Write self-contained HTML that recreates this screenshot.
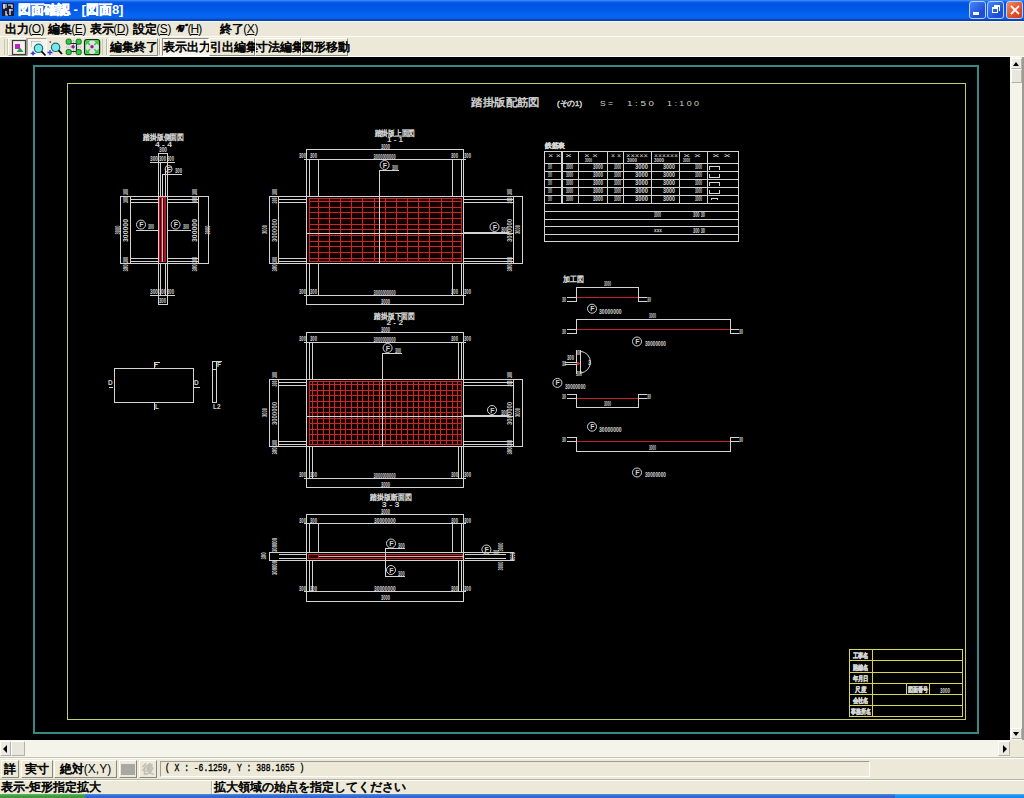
<!DOCTYPE html>
<html><head><meta charset="utf-8"><title>図面確認</title>
<style>
*{margin:0;padding:0;box-sizing:border-box}
html,body{width:1024px;height:798px;overflow:hidden;background:#ece9d8;font-family:"Liberation Sans",sans-serif;font-size:12px;color:#000}
.a{position:absolute}
.j{-webkit-text-stroke:0.6px currentColor}
#title{left:0;top:0;width:1024px;height:21px;background:linear-gradient(#3d95ff 0px,#2a7af8 1px,#0a5ae8 2px,#0054e3 4px,#0058e6 9px,#0062ee 13px,#0866f0 17px,#0a56d8 19px,#0a40b0 20px,#0a3c9c 21px)}
#title .t{left:18px;top:3px;color:#fff;font-weight:bold;font-size:13px;line-height:14px;white-space:nowrap}
.wb{position:absolute;top:1px;width:17px;height:18px;border:1px solid #b8d0ff;border-radius:3px;background:linear-gradient(135deg,#4a86f8,#1c4fd8 70%,#2050c8)}
#wl1{left:0;top:21px;width:1024px;height:1px;background:#f4fbff}
#menu{left:0;top:22px;width:1024px;height:14px;background:#ebe8d9}
#menu .m{position:absolute;top:0px;font-size:12px;white-space:nowrap;line-height:14px;letter-spacing:-0.4px}
.u{text-decoration:underline}
#wl2{left:0;top:36px;width:1024px;height:1px;background:#fffbf0}
#tool{left:0;top:37px;width:1024px;height:19px;background:#ece9d8}
#wl3{left:0;top:56px;width:1024px;height:1px;background:#fffff6}
#canvas{left:0;top:57px;width:1010px;height:683px;background:#000}
.btn{position:absolute;top:38px;height:18px;border:1px solid;border-color:#fff #8e8b80 #8e8b80 #fff;font-size:12px;line-height:16px;text-align:center;white-space:nowrap}
.btn.p{border-color:#8e8b80 #fff #fff #8e8b80;background:#f5f4ee}
#vsb{left:1010px;top:57px;width:14px;height:683px;background:#f5f4ea}
#hsb{left:0;top:740px;width:1010px;height:17px;background:#f5f4ea}
#corner{left:1010px;top:740px;width:14px;height:17px;background:#ece9d8}
#btool{left:0;top:757px;width:1024px;height:22px;background:#ece9d8}
#status{left:0;top:781px;width:1024px;height:14px;background:#ece9d8}
#task{left:0;top:794px;width:1024px;height:4px;background:linear-gradient(#5a8ee0,#2f68d0 2px)}
svg text{font-family:"Liberation Sans",sans-serif}
.sbb{border:1px solid;border-color:#fff #b4b2a8 #b4b2a8 #fff;background:#ecebe3;border-radius:1px}
.bb{position:absolute;top:760px;height:18px;border:1px solid;border-color:#fff #8a877c #8a877c #fff;background:#ece9d8;line-height:16px;text-align:center;white-space:nowrap;font-size:12px}
</style></head><body>
<div id="title" class="a">
<svg class="a" style="left:2px;top:3px" width="12" height="13" viewBox="0 0 12 13">
<rect x="0" y="0" width="12" height="13" fill="#1a1a3a"/>
<path d="M1 2H5M1 4H5M2 1V6M6 2H10V5M7 7H11M8 6V12M4 8V12H6" stroke="#fff" stroke-width="1.2" fill="none"/>
</svg>
<div class="t a"><span class="j">図面確認</span> - [<span class="j">図面</span>8]</div>
<div class="wb" style="left:969px"><div class="a" style="left:3px;top:10px;width:6px;height:3px;background:#fff"></div></div>
<div class="wb" style="left:987px"><div class="a" style="left:4px;top:5px;width:6px;height:6px;border:1px solid #fff;border-top-width:2px"></div><div class="a" style="left:6px;top:3px;width:6px;height:6px;border:1px solid #fff;border-top-width:2px;border-left:none;border-bottom:none"></div></div>
<div class="wb" style="left:1006px;background:linear-gradient(135deg,#f08a60,#e0502a 60%,#c83c1c)"><svg class="a" style="left:3px;top:3px" width="10" height="10"><path d="M1 1L9 9M9 1L1 9" stroke="#fff" stroke-width="1.8"/></svg></div>
</div>
<div id="wl1" class="a"></div>
<div id="menu" class="a">
<span class="m" style="left:5px"><span class="j">出力</span>(<span class="u">O</span>)</span>
<span class="m" style="left:48px"><span class="j">編集</span>(<span class="u">E</span>)</span>
<span class="m" style="left:90px"><span class="j">表示</span>(<span class="u">D</span>)</span>
<span class="m" style="left:133px"><span class="j">設定</span>(<span class="u">S</span>)</span>
<span class="m" style="left:176px"><span class="j" style="font-size:10px;letter-spacing:-2.8px;vertical-align:1px">ﾍﾙﾌﾟ</span><span style="letter-spacing:-1px">&#8202;(<span class="u">H</span>)</span></span>
<span class="m" style="left:220px"><span class="j">終了</span>(<span class="u">X</span>)</span>
</div>
<div id="wl2" class="a"></div>
<div id="tool" class="a"></div>
<div id="wl3" class="a"></div>
<div class="a" style="left:4px;top:39px;width:1px;height:16px;background:#c9c6b6"></div>
<div class="a" style="left:7px;top:39px;width:1px;height:16px;background:#c9c6b6"></div>
<div class="a" style="left:8px;top:38px;width:19px;height:18px;border:1px solid;border-color:#fff #a6a39a #a6a39a #fff"></div>
<div class="a" style="left:27px;top:38px;width:20px;height:18px;border:1px solid;border-color:#a6a39a #fff #fff #a6a39a;background:#f4f3ec"></div>
<svg class="a" style="left:0;top:36px" width="110" height="21" viewBox="0 36 110 21">
 <rect x="12.5" y="40.5" width="13" height="14" fill="#f4f2ea" stroke="#3a3a3a" stroke-width="1.2"/>
 <rect x="15" y="44" width="5" height="5" fill="#c020c0"/>
 <path d="M16.5 52 L20 47.5 L23.5 52 Z" fill="#20a040"/>
 <path d="M31.5 41.5H40.5M31.5 41.5V47" fill="none" stroke="#9a9a9a" stroke-width="1" stroke-dasharray="1 1"/>
 <circle cx="38.5" cy="48.3" r="4.2" fill="#78e8f0" stroke="#207070" stroke-width="1.2"/>
 <path d="M41.5 51.3 L45.5 55.5" stroke="#000" stroke-width="1.8"/>
 <path d="M33 50.5 L34 52.5 L36 53.3 L34 54.2 L33 56 L32 54.2 L30 53.3 L32 52.5Z" fill="#3040d0"/>
 <circle cx="50.3" cy="42" r="0.9" fill="#d03030"/>
 <circle cx="55.6" cy="47.3" r="4.2" fill="#78e8f0" stroke="#207070" stroke-width="1.2"/>
 <path d="M58.6 50.3 L62 54" stroke="#000" stroke-width="1.8"/>
 <path d="M47.5 52.5 H52.5 M50 50 V55" stroke="#3040d0" stroke-width="1.3"/>
 <rect x="66" y="40" width="15" height="14" fill="#e4e2e4"/>
 <path d="M66 47H81M73.5 40V54" stroke="#b0aeb0" stroke-width="1" stroke-dasharray="1 1"/>
 <path d="M70 43.5H77.5M76.5 43.5V51.5M70 51.5H77" stroke="#203020" stroke-width="1.2"/>
 <rect x="66.2" y="39.2" width="5" height="5" rx="1.5" fill="#2cd03c" stroke="#0a4a10" stroke-width="0.8"/>
 <rect x="76.2" y="39.2" width="5" height="5" rx="1.5" fill="#2cd03c" stroke="#0a4a10" stroke-width="0.8"/>
 <rect x="66.2" y="49.6" width="5" height="5" rx="1.5" fill="#2cd03c" stroke="#0a4a10" stroke-width="0.8"/>
 <rect x="76.2" y="49.6" width="5" height="5" rx="1.5" fill="#2cd03c" stroke="#0a4a10" stroke-width="0.8"/>
 <circle cx="73" cy="46.7" r="1.7" fill="#8a208a"/>
 <rect x="84.6" y="39.6" width="15" height="15" rx="2.2" fill="#e2e0e2" stroke="#0a300a" stroke-width="1.3"/>
 <path d="M85.5 40.5h5l-5 5zM98.8 40.5h-5l5 5zM85.5 53.8h5l-5-5zM98.8 53.8h-5l5-5z" fill="#2cd03c"/>
 <path d="M86.5 41.5l3.5 3.5M97.8 41.5l-3.5 3.5M86.5 52.8l3.5-3.5M97.8 52.8l-3.5-3.5" stroke="#2cd03c" stroke-width="1.6"/>
 <circle cx="92" cy="46.8" r="1.7" fill="#8a208a"/>
</svg>
<div class="a" style="left:102px;top:39px;width:1px;height:16px;background:#c9c6b6"></div>
<div class="a" style="left:106px;top:39px;width:1px;height:16px;background:#b8b5a6"></div>
<div class="a" style="left:107px;top:39px;width:1px;height:16px;background:#fff"></div>
<div class="a" style="left:159px;top:39px;width:1px;height:16px;background:#b8b5a6"></div>
<div class="a" style="left:160px;top:39px;width:1px;height:16px;background:#fff"></div>
<div class="btn j" style="left:109px;width:49px">編集終了</div>
<div class="btn p j" style="left:162px;width:47px">表示出力</div>
<div class="btn j" style="left:209px;width:46px">引出編集</div>
<div class="btn j" style="left:255px;width:46px">寸法編集</div>
<div class="btn j" style="left:301px;width:47px">図形移動</div>
<div id="canvas" class="a"></div>
<div id="vsb" class="a"></div>
<div class="a" style="left:1022px;top:57px;width:2px;height:683px;background:#9d9b94"></div>
<div class="a sbb" style="left:1011px;top:58px;width:11px;height:11px"></div>
<div class="a" style="left:1013px;top:62px;width:0;height:0;border-left:3.5px solid transparent;border-right:3.5px solid transparent;border-bottom:4px solid #000"></div>
<div class="a sbb" style="left:1011px;top:69px;width:11px;height:14px;background:#e9e7dc"></div>
<div class="a sbb" style="left:1011px;top:728px;width:11px;height:11px"></div>
<div class="a" style="left:1013px;top:732px;width:0;height:0;border-left:3.5px solid transparent;border-right:3.5px solid transparent;border-top:4px solid #000"></div>
<div id="hsb" class="a"></div>
<div class="a sbb" style="left:0px;top:741px;width:11px;height:15px"></div>
<div class="a" style="left:3px;top:745px;width:0;height:0;border-top:4px solid transparent;border-bottom:4px solid transparent;border-right:4px solid #000"></div>
<div class="a sbb" style="left:11px;top:741px;width:14px;height:15px;background:#e9e7dc"></div>
<div class="a sbb" style="left:998px;top:741px;width:12px;height:15px"></div>
<div class="a" style="left:1003px;top:745px;width:0;height:0;border-top:4px solid transparent;border-bottom:4px solid transparent;border-left:4px solid #000"></div>
<div id="corner" class="a"></div>
<div id="btool" class="a"></div>
<div class="a" style="left:0;top:757px;width:1024px;height:1px;background:#c4c1b2"></div>
<div class="a" style="left:0;top:758px;width:1024px;height:1px;background:#fff"></div>
<div class="bb j" style="left:1px;width:18px">詳</div>
<div class="bb j" style="left:21px;width:32px">実寸</div>
<div class="bb" style="left:54px;width:63px"><span class="j">絶対</span>(X,Y)</div>
<div class="bb" style="left:119px;width:18px"><div class="a" style="left:1px;top:3px;width:14px;height:11px;background:#a8a8a4"></div></div>
<div class="bb j" style="left:139px;width:18px;color:#c0beb4">後</div>
<div class="a" style="left:160px;top:761px;width:710px;height:16px;border:1px solid;border-color:#a09e94 #fff #fff #a09e94"></div>
<div class="a" style="left:165px;top:762px;font-family:'Liberation Mono',monospace;font-size:10px;line-height:14px;white-space:nowrap;transform:scaleX(0.8);-webkit-text-stroke:0.35px #000;transform-origin:0 0">( X : -6.1259, Y : 388.1655 )</div>
<div class="a" style="left:0;top:779px;width:1024px;height:1px;background:#b8b5a6"></div>
<div class="a" style="left:0;top:780px;width:1024px;height:1px;background:#fff"></div>
<div id="status" class="a"></div>
<div class="a j" style="left:1px;top:780px;line-height:14px;white-space:nowrap">表示-矩形指定拡大</div>
<div class="a" style="left:211px;top:781px;width:1px;height:13px;background:#b8b5a6"></div>
<div class="a" style="left:212px;top:781px;width:1px;height:13px;background:#fff"></div>
<div class="a j" style="left:214px;top:780px;line-height:14px;white-space:nowrap">拡大領域の始点を指定してください</div>
<div id="task" class="a"></div>
<div class="a" style="left:0;top:794px;width:85px;height:4px;background:linear-gradient(#6ab86a,#3c9a3c 2px)"></div>
<div class="a" style="left:895px;top:794px;width:129px;height:4px;background:linear-gradient(#50b0f8,#1a8ef0 2px)"></div>
<svg class="a" style="left:0;top:0" width="1024" height="798" viewBox="0 0 1024 798">
<g fill="none" shape-rendering="crispEdges">
<rect x="34" y="66" width="944" height="667" stroke="#338a86" stroke-width="2"/>
<rect x="67.5" y="83.5" width="898" height="636" stroke="#c8cc66" stroke-width="1"/>
</g>
<g fill="none" shape-rendering="crispEdges">
<text x="471" y="106" font-size="11" fill="#d4d4d4" textLength="69" lengthAdjust="spacingAndGlyphs" stroke="#d4d4d4" stroke-width="0.45">踏掛版配筋図</text>
<text x="557" y="106" font-size="8" fill="#d4d4d4" textLength="25" lengthAdjust="spacingAndGlyphs" stroke="#d4d4d4" stroke-width="0.45">(その1)</text>
<text x="600" y="106" font-size="8" fill="#d4d4d4" textLength="13" lengthAdjust="spacingAndGlyphs">S =</text>
<text x="627" y="106" font-size="8" fill="#d4d4d4" textLength="27" lengthAdjust="spacingAndGlyphs">1 : 5 0</text>
<text x="667" y="106" font-size="8" fill="#d4d4d4" textLength="32" lengthAdjust="spacingAndGlyphs">1 : 1 0 0</text>
<text x="143" y="140" font-size="8" fill="#d4d4d4" textLength="41" lengthAdjust="spacingAndGlyphs" stroke="#d4d4d4" stroke-width="0.45">踏掛版側面図</text>
<text x="155" y="146.5" font-size="7" fill="#d4d4d4" textLength="17" lengthAdjust="spacingAndGlyphs" font-weight="bold">4 - 4</text>
<path d="M158 153.5H168" stroke="#d4d4d4" stroke-width="1"/>
<path d="M158.5 153V197" stroke="#d4d4d4" stroke-width="1"/>
<path d="M167.5 153V197" stroke="#d4d4d4" stroke-width="1"/>
<path d="M160.5 162V197" stroke="#d4d4d4" stroke-width="1"/>
<path d="M165.5 169V197" stroke="#d4d4d4" stroke-width="1"/>
<path d="M162.5 174V197" stroke="#d4d4d4" stroke-width="1"/>
<path d="M150 162.5H175" stroke="#d4d4d4" stroke-width="1"/>
<text x="150" y="161" font-size="6.5" fill="#d4d4d4" textLength="8" lengthAdjust="spacingAndGlyphs" font-weight="bold">300</text>
<text x="159" y="161" font-size="6.5" fill="#d4d4d4" textLength="7" lengthAdjust="spacingAndGlyphs" font-weight="bold">300</text>
<text x="167" y="161" font-size="6.5" fill="#d4d4d4" textLength="7" lengthAdjust="spacingAndGlyphs" font-weight="bold">300</text>
<text x="159" y="152" font-size="6.5" fill="#d4d4d4" textLength="8" lengthAdjust="spacingAndGlyphs" font-weight="bold">300</text>
<circle cx="168.6" cy="169" r="3.5" fill="none" stroke="#d4d4d4" stroke-width="1" shape-rendering="auto"/>
<text x="166.79999999999998" y="171.5" font-size="7" fill="#d4d4d4" font-weight="bold">F</text>
<path d="M162 174.5H182" stroke="#d4d4d4" stroke-width="1"/>
<text x="175" y="173" font-size="6.5" fill="#d4d4d4" textLength="7" lengthAdjust="spacingAndGlyphs" font-weight="bold">300</text>
<path d="M120.5 196V264" stroke="#d4d4d4" stroke-width="1"/>
<path d="M130.5 196V264" stroke="#d4d4d4" stroke-width="1"/>
<path d="M198.5 196V264" stroke="#d4d4d4" stroke-width="1"/>
<path d="M208.5 196V264" stroke="#d4d4d4" stroke-width="1"/>
<path d="M120 196.5H209" stroke="#d4d4d4" stroke-width="1"/>
<path d="M120 263.5H209" stroke="#d4d4d4" stroke-width="1"/>
<path d="M130 199.5H159" stroke="#d4d4d4" stroke-width="1"/>
<path d="M167 199.5H199" stroke="#d4d4d4" stroke-width="1"/>
<path d="M130 202.5H159" stroke="#d4d4d4" stroke-width="1"/>
<path d="M167 202.5H199" stroke="#d4d4d4" stroke-width="1"/>
<path d="M130 258.5H159" stroke="#d4d4d4" stroke-width="1"/>
<path d="M167 258.5H199" stroke="#d4d4d4" stroke-width="1"/>
<path d="M130 261.5H159" stroke="#d4d4d4" stroke-width="1"/>
<path d="M167 261.5H199" stroke="#d4d4d4" stroke-width="1"/>
<path d="M158.5 196V296" stroke="#d4d4d4" stroke-width="1"/>
<path d="M167.5 196V296" stroke="#d4d4d4" stroke-width="1"/>
<path d="M160.5 263V296" stroke="#d4d4d4" stroke-width="1"/>
<path d="M165.5 263V296" stroke="#d4d4d4" stroke-width="1"/>
<path d="M150 295.5H175" stroke="#d4d4d4" stroke-width="1"/>
<path d="M158 304.5H168" stroke="#d4d4d4" stroke-width="1"/>
<path d="M158.5 295V305" stroke="#d4d4d4" stroke-width="1"/>
<path d="M167.5 295V305" stroke="#d4d4d4" stroke-width="1"/>
<text x="150" y="294" font-size="6.5" fill="#d4d4d4" textLength="8" lengthAdjust="spacingAndGlyphs" font-weight="bold">300</text>
<text x="159" y="294" font-size="6.5" fill="#d4d4d4" textLength="7" lengthAdjust="spacingAndGlyphs" font-weight="bold">300</text>
<text x="167" y="294" font-size="6.5" fill="#d4d4d4" textLength="7" lengthAdjust="spacingAndGlyphs" font-weight="bold">300</text>
<text x="159" y="303" font-size="6.5" fill="#d4d4d4" textLength="7" lengthAdjust="spacingAndGlyphs" font-weight="bold">300</text>
<rect x="159.5" y="197.5" width="6" height="64" fill="#3a0408" stroke="#b01828" stroke-width="1"/>
<path d="M161.5 198V262" stroke="#c02030" stroke-width="1"/>
<path d="M164.5 198V262" stroke="#a01828" stroke-width="1"/>
<path d="M162.5 198V262" stroke="#e8b0b8" stroke-width="1"/>
<circle cx="141" cy="224.6" r="4.5" fill="none" stroke="#d4d4d4" stroke-width="1" shape-rendering="auto"/>
<text x="139.2" y="227.1" font-size="7" fill="#d4d4d4" font-weight="bold">F</text>
<path d="M136 230.5H159" stroke="#d4d4d4" stroke-width="1"/>
<text x="148" y="229" font-size="6.5" fill="#d4d4d4" textLength="6" lengthAdjust="spacingAndGlyphs" font-weight="bold">300</text>
<circle cx="175.6" cy="224.6" r="4.5" fill="none" stroke="#d4d4d4" stroke-width="1" shape-rendering="auto"/>
<text x="173.79999999999998" y="227.1" font-size="7" fill="#d4d4d4" font-weight="bold">F</text>
<path d="M167 230.5H191" stroke="#d4d4d4" stroke-width="1"/>
<text x="183" y="229" font-size="6.5" fill="#d4d4d4" textLength="6" lengthAdjust="spacingAndGlyphs" font-weight="bold">300</text>
<text x="128" y="230.5" font-size="6.5" fill="#d4d4d4" text-anchor="middle" transform="rotate(-90 128 230.5)" textLength="23" lengthAdjust="spacingAndGlyphs" font-weight="bold">300000</text>
<text x="197" y="230.5" font-size="6.5" fill="#d4d4d4" text-anchor="middle" transform="rotate(-90 197 230.5)" textLength="23" lengthAdjust="spacingAndGlyphs" font-weight="bold">300000</text>
<text x="119.5" y="230" font-size="6.5" fill="#d4d4d4" text-anchor="middle" transform="rotate(-90 119.5 230)" textLength="9" lengthAdjust="spacingAndGlyphs" font-weight="bold">3000</text>
<text x="210" y="230" font-size="6.5" fill="#d4d4d4" text-anchor="middle" transform="rotate(-90 210 230)" textLength="9" lengthAdjust="spacingAndGlyphs" font-weight="bold">3000</text>
<text x="128" y="192" font-size="6.5" fill="#d4d4d4" text-anchor="middle" transform="rotate(-90 128 192)" textLength="6" lengthAdjust="spacingAndGlyphs" font-weight="bold">300</text>
<text x="128" y="200" font-size="6.5" fill="#d4d4d4" text-anchor="middle" transform="rotate(-90 128 200)" textLength="6" lengthAdjust="spacingAndGlyphs" font-weight="bold">300</text>
<text x="128" y="260" font-size="6.5" fill="#d4d4d4" text-anchor="middle" transform="rotate(-90 128 260)" textLength="6" lengthAdjust="spacingAndGlyphs" font-weight="bold">300</text>
<text x="128" y="268" font-size="6.5" fill="#d4d4d4" text-anchor="middle" transform="rotate(-90 128 268)" textLength="7" lengthAdjust="spacingAndGlyphs" font-weight="bold">300</text>
<text x="197" y="192" font-size="6.5" fill="#d4d4d4" text-anchor="middle" transform="rotate(-90 197 192)" textLength="6" lengthAdjust="spacingAndGlyphs" font-weight="bold">300</text>
<text x="197" y="200" font-size="6.5" fill="#d4d4d4" text-anchor="middle" transform="rotate(-90 197 200)" textLength="6" lengthAdjust="spacingAndGlyphs" font-weight="bold">300</text>
<text x="197" y="260" font-size="6.5" fill="#d4d4d4" text-anchor="middle" transform="rotate(-90 197 260)" textLength="6" lengthAdjust="spacingAndGlyphs" font-weight="bold">300</text>
<text x="197" y="268" font-size="6.5" fill="#d4d4d4" text-anchor="middle" transform="rotate(-90 197 268)" textLength="7" lengthAdjust="spacingAndGlyphs" font-weight="bold">300</text>
<rect x="114.5" y="368.5" width="79" height="34" fill="none" stroke="#d4d4d4"/>
<rect x="212.5" y="361.5" width="4" height="41" fill="none" stroke="#d4d4d4"/>
<path d="M212 369.5H217" stroke="#d4d4d4" stroke-width="1"/>
<path d="M154.0 368V363" stroke="#d4d4d4" stroke-width="1"/>
<path d="M154 362.5H160" stroke="#d4d4d4" stroke-width="1"/>
<text x="154" y="367" font-size="6.5" fill="#d4d4d4" font-weight="bold">F</text>
<path d="M113 387.5H109" stroke="#d4d4d4" stroke-width="1"/>
<text x="108" y="385" font-size="6.5" fill="#d4d4d4" font-weight="bold">D</text>
<path d="M194 387.5H200" stroke="#d4d4d4" stroke-width="1"/>
<text x="194" y="385" font-size="6.5" fill="#d4d4d4" font-weight="bold">D</text>
<path d="M154.0 403V410" stroke="#d4d4d4" stroke-width="1"/>
<text x="155" y="409" font-size="6.5" fill="#d4d4d4" font-weight="bold">L</text>
<path d="M216 361.5H222" stroke="#d4d4d4" stroke-width="1"/>
<text x="217" y="367" font-size="6.5" fill="#d4d4d4" font-weight="bold">F</text>
<text x="213" y="409" font-size="6.5" fill="#d4d4d4" font-weight="bold">L2</text>
<text x="374.6" y="135.5" font-size="8" fill="#d4d4d4" textLength="40.5" lengthAdjust="spacingAndGlyphs" stroke="#d4d4d4" stroke-width="0.45">踏掛版上面図</text>
<text x="387" y="141.5" font-size="7" fill="#d4d4d4" textLength="16" lengthAdjust="spacingAndGlyphs" font-weight="bold">1 - 1</text>
<path d="M306 149.5H464" stroke="#d4d4d4" stroke-width="1"/>
<text x="381" y="148.5" font-size="6.5" fill="#d4d4d4" textLength="9" lengthAdjust="spacingAndGlyphs" font-weight="bold">3000</text>
<path d="M304 159.5H466" stroke="#d4d4d4" stroke-width="1"/>
<path d="M306.5 149V305" stroke="#d4d4d4" stroke-width="1"/>
<path d="M463.5 149V305" stroke="#d4d4d4" stroke-width="1"/>
<path d="M309.5 159V197" stroke="#d4d4d4" stroke-width="1"/>
<path d="M309.5 263V296" stroke="#d4d4d4" stroke-width="1"/>
<path d="M318.5 159V197" stroke="#d4d4d4" stroke-width="1"/>
<path d="M318.5 263V296" stroke="#d4d4d4" stroke-width="1"/>
<path d="M452.5 159V197" stroke="#d4d4d4" stroke-width="1"/>
<path d="M452.5 263V296" stroke="#d4d4d4" stroke-width="1"/>
<path d="M461.5 159V197" stroke="#d4d4d4" stroke-width="1"/>
<path d="M461.5 263V296" stroke="#d4d4d4" stroke-width="1"/>
<text x="299" y="158" font-size="6.5" fill="#d4d4d4" textLength="7" lengthAdjust="spacingAndGlyphs" font-weight="bold">300</text>
<text x="310" y="158" font-size="6.5" fill="#d4d4d4" textLength="7" lengthAdjust="spacingAndGlyphs" font-weight="bold">300</text>
<text x="451" y="158" font-size="6.5" fill="#d4d4d4" textLength="7" lengthAdjust="spacingAndGlyphs" font-weight="bold">300</text>
<text x="464" y="158" font-size="6.5" fill="#d4d4d4" textLength="7" lengthAdjust="spacingAndGlyphs" font-weight="bold">300</text>
<text x="373.6" y="158.5" font-size="6.5" fill="#d4d4d4" textLength="22" lengthAdjust="spacingAndGlyphs" font-weight="bold">3000000000</text>
<path d="M304 295.5H466" stroke="#d4d4d4" stroke-width="1"/>
<path d="M306 304.5H464" stroke="#d4d4d4" stroke-width="1"/>
<text x="299" y="294" font-size="6.5" fill="#d4d4d4" textLength="7" lengthAdjust="spacingAndGlyphs" font-weight="bold">300</text>
<text x="310" y="294" font-size="6.5" fill="#d4d4d4" textLength="7" lengthAdjust="spacingAndGlyphs" font-weight="bold">300</text>
<text x="451" y="294" font-size="6.5" fill="#d4d4d4" textLength="7" lengthAdjust="spacingAndGlyphs" font-weight="bold">300</text>
<text x="464" y="294" font-size="6.5" fill="#d4d4d4" textLength="7" lengthAdjust="spacingAndGlyphs" font-weight="bold">300</text>
<text x="373.6" y="294.5" font-size="6.5" fill="#d4d4d4" textLength="22" lengthAdjust="spacingAndGlyphs" font-weight="bold">3000000000</text>
<text x="381" y="303.5" font-size="6.5" fill="#d4d4d4" textLength="9" lengthAdjust="spacingAndGlyphs" font-weight="bold">3000</text>
<rect x="306.5" y="196.5" width="157" height="67" fill="#120000" stroke="#d4d4d4"/>
<path d="M309.5 198.5H461.5V261.5H309.5ZM318.5 198V262M329.5 198V262M340.5 198V262M351.5 198V262M362.5 198V262M374.5 198V262M385.5 198V262M396.5 198V262M407.5 198V262M418.5 198V262M429.5 198V262M441.5 198V262M452.5 198V262M309 201.5H462M309 207.5H462M309 212.5H462M309 218.5H462M309 224.5H462M309 229.5H462M309 235.5H462M309 241.5H462M309 246.5H462M309 252.5H462M309 258.5H462" fill="none" stroke="#cc2626" stroke-width="1"/>
<path d="M306 233.5H514" stroke="#d4d4d4" stroke-width="1"/>
<path d="M379.5 170V264" stroke="#d4d4d4" stroke-width="1"/>
<circle cx="384.6" cy="165" r="4.5" fill="none" stroke="#d4d4d4" stroke-width="1" shape-rendering="auto"/>
<text x="382.8" y="167.5" font-size="7" fill="#d4d4d4" font-weight="bold">F</text>
<path d="M379 170.5H399" stroke="#d4d4d4" stroke-width="1"/>
<text x="392" y="169.5" font-size="6.5" fill="#d4d4d4" textLength="6" lengthAdjust="spacingAndGlyphs" font-weight="bold">300</text>
<path d="M269.5 196V264" stroke="#d4d4d4" stroke-width="1"/>
<path d="M278.5 196V264" stroke="#d4d4d4" stroke-width="1"/>
<path d="M513.5 196V264" stroke="#d4d4d4" stroke-width="1"/>
<path d="M522.5 196V264" stroke="#d4d4d4" stroke-width="1"/>
<path d="M269 196.5H307" stroke="#d4d4d4" stroke-width="1"/>
<path d="M463 196.5H523" stroke="#d4d4d4" stroke-width="1"/>
<path d="M269 263.5H307" stroke="#d4d4d4" stroke-width="1"/>
<path d="M463 263.5H523" stroke="#d4d4d4" stroke-width="1"/>
<path d="M278 199.5H307" stroke="#d4d4d4" stroke-width="1"/>
<path d="M463 199.5H514" stroke="#d4d4d4" stroke-width="1"/>
<path d="M278 202.5H307" stroke="#d4d4d4" stroke-width="1"/>
<path d="M463 202.5H514" stroke="#d4d4d4" stroke-width="1"/>
<path d="M278 258.5H307" stroke="#d4d4d4" stroke-width="1"/>
<path d="M463 258.5H514" stroke="#d4d4d4" stroke-width="1"/>
<path d="M278 261.5H307" stroke="#d4d4d4" stroke-width="1"/>
<path d="M463 261.5H514" stroke="#d4d4d4" stroke-width="1"/>
<circle cx="494.5" cy="227" r="4.5" fill="none" stroke="#d4d4d4" stroke-width="1" shape-rendering="auto"/>
<text x="492.7" y="229.5" font-size="7" fill="#d4d4d4" font-weight="bold">F</text>
<path d="M463 232.5H509" stroke="#d4d4d4" stroke-width="1"/>
<text x="501" y="231.5" font-size="6.5" fill="#d4d4d4" textLength="7" lengthAdjust="spacingAndGlyphs" font-weight="bold">300</text>
<text x="267" y="229.5" font-size="6.5" fill="#d4d4d4" text-anchor="middle" transform="rotate(-90 267 229.5)" textLength="9" lengthAdjust="spacingAndGlyphs" font-weight="bold">3000</text>
<text x="520" y="229.5" font-size="6.5" fill="#d4d4d4" text-anchor="middle" transform="rotate(-90 520 229.5)" textLength="9" lengthAdjust="spacingAndGlyphs" font-weight="bold">3000</text>
<text x="277" y="230.5" font-size="6.5" fill="#d4d4d4" text-anchor="middle" transform="rotate(-90 277 230.5)" textLength="23" lengthAdjust="spacingAndGlyphs" font-weight="bold">3000000</text>
<text x="277" y="192" font-size="6.5" fill="#d4d4d4" text-anchor="middle" transform="rotate(-90 277 192)" textLength="6" lengthAdjust="spacingAndGlyphs" font-weight="bold">300</text>
<text x="277" y="200.5" font-size="6.5" fill="#d4d4d4" text-anchor="middle" transform="rotate(-90 277 200.5)" textLength="6" lengthAdjust="spacingAndGlyphs" font-weight="bold">300</text>
<text x="277" y="260" font-size="6.5" fill="#d4d4d4" text-anchor="middle" transform="rotate(-90 277 260)" textLength="6" lengthAdjust="spacingAndGlyphs" font-weight="bold">300</text>
<text x="277" y="268" font-size="6.5" fill="#d4d4d4" text-anchor="middle" transform="rotate(-90 277 268)" textLength="7" lengthAdjust="spacingAndGlyphs" font-weight="bold">300</text>
<text x="512" y="230.5" font-size="6.5" fill="#d4d4d4" text-anchor="middle" transform="rotate(-90 512 230.5)" textLength="23" lengthAdjust="spacingAndGlyphs" font-weight="bold">3000000</text>
<text x="512" y="192" font-size="6.5" fill="#d4d4d4" text-anchor="middle" transform="rotate(-90 512 192)" textLength="6" lengthAdjust="spacingAndGlyphs" font-weight="bold">300</text>
<text x="512" y="200.5" font-size="6.5" fill="#d4d4d4" text-anchor="middle" transform="rotate(-90 512 200.5)" textLength="6" lengthAdjust="spacingAndGlyphs" font-weight="bold">300</text>
<text x="512" y="260" font-size="6.5" fill="#d4d4d4" text-anchor="middle" transform="rotate(-90 512 260)" textLength="6" lengthAdjust="spacingAndGlyphs" font-weight="bold">300</text>
<text x="512" y="268" font-size="6.5" fill="#d4d4d4" text-anchor="middle" transform="rotate(-90 512 268)" textLength="7" lengthAdjust="spacingAndGlyphs" font-weight="bold">300</text>
<text x="374.4" y="319" font-size="8" fill="#d4d4d4" textLength="40.5" lengthAdjust="spacingAndGlyphs" stroke="#d4d4d4" stroke-width="0.45">踏掛版下面図</text>
<text x="386.5" y="325.4" font-size="7" fill="#d4d4d4" textLength="16.5" lengthAdjust="spacingAndGlyphs" font-weight="bold">2 - 2</text>
<path d="M306 332.5H464" stroke="#d4d4d4" stroke-width="1"/>
<text x="381" y="331.5" font-size="6.5" fill="#d4d4d4" textLength="9" lengthAdjust="spacingAndGlyphs" font-weight="bold">3000</text>
<path d="M304 342.5H466" stroke="#d4d4d4" stroke-width="1"/>
<path d="M306.5 332V488" stroke="#d4d4d4" stroke-width="1"/>
<path d="M463.5 332V488" stroke="#d4d4d4" stroke-width="1"/>
<path d="M309.5 342V380" stroke="#d4d4d4" stroke-width="1"/>
<path d="M309.5 446V479" stroke="#d4d4d4" stroke-width="1"/>
<path d="M312.5 342V380" stroke="#d4d4d4" stroke-width="1"/>
<path d="M312.5 446V479" stroke="#d4d4d4" stroke-width="1"/>
<path d="M458.5 342V380" stroke="#d4d4d4" stroke-width="1"/>
<path d="M458.5 446V479" stroke="#d4d4d4" stroke-width="1"/>
<path d="M461.5 342V380" stroke="#d4d4d4" stroke-width="1"/>
<path d="M461.5 446V479" stroke="#d4d4d4" stroke-width="1"/>
<text x="299" y="341" font-size="6.5" fill="#d4d4d4" textLength="7" lengthAdjust="spacingAndGlyphs" font-weight="bold">300</text>
<text x="310" y="341" font-size="6.5" fill="#d4d4d4" textLength="7" lengthAdjust="spacingAndGlyphs" font-weight="bold">300</text>
<text x="451" y="341" font-size="6.5" fill="#d4d4d4" textLength="7" lengthAdjust="spacingAndGlyphs" font-weight="bold">300</text>
<text x="464" y="341" font-size="6.5" fill="#d4d4d4" textLength="7" lengthAdjust="spacingAndGlyphs" font-weight="bold">300</text>
<text x="373.6" y="341.5" font-size="6.5" fill="#d4d4d4" textLength="22" lengthAdjust="spacingAndGlyphs" font-weight="bold">3000000000</text>
<path d="M304 478.5H466" stroke="#d4d4d4" stroke-width="1"/>
<path d="M306 487.5H464" stroke="#d4d4d4" stroke-width="1"/>
<text x="299" y="477" font-size="6.5" fill="#d4d4d4" textLength="7" lengthAdjust="spacingAndGlyphs" font-weight="bold">300</text>
<text x="310" y="477" font-size="6.5" fill="#d4d4d4" textLength="7" lengthAdjust="spacingAndGlyphs" font-weight="bold">300</text>
<text x="451" y="477" font-size="6.5" fill="#d4d4d4" textLength="7" lengthAdjust="spacingAndGlyphs" font-weight="bold">300</text>
<text x="464" y="477" font-size="6.5" fill="#d4d4d4" textLength="7" lengthAdjust="spacingAndGlyphs" font-weight="bold">300</text>
<text x="373.6" y="477.5" font-size="6.5" fill="#d4d4d4" textLength="22" lengthAdjust="spacingAndGlyphs" font-weight="bold">3000000000</text>
<text x="381" y="486.5" font-size="6.5" fill="#d4d4d4" textLength="9" lengthAdjust="spacingAndGlyphs" font-weight="bold">3000</text>
<rect x="306.5" y="379.5" width="157" height="67" fill="#120000" stroke="#d4d4d4"/>
<path d="M309.5 381.5H461.5V444.5H309.5ZM312.5 381V445M317.5 381V445M323.5 381V445M329.5 381V445M334.5 381V445M340.5 381V445M345.5 381V445M351.5 381V445M357.5 381V445M362.5 381V445M368.5 381V445M373.5 381V445M379.5 381V445M385.5 381V445M390.5 381V445M396.5 381V445M401.5 381V445M407.5 381V445M413.5 381V445M418.5 381V445M424.5 381V445M429.5 381V445M435.5 381V445M440.5 381V445M446.5 381V445M452.5 381V445M457.5 381V445M309 384.5H462M309 390.5H462M309 395.5H462M309 401.5H462M309 407.5H462M309 412.5H462M309 418.5H462M309 423.5H462M309 429.5H462M309 434.5H462M309 440.5H462" fill="none" stroke="#cc2626" stroke-width="1"/>
<path d="M306 416.5H514" stroke="#d4d4d4" stroke-width="1"/>
<path d="M382.5 353V447" stroke="#d4d4d4" stroke-width="1"/>
<circle cx="387.6" cy="348" r="4.5" fill="none" stroke="#d4d4d4" stroke-width="1" shape-rendering="auto"/>
<text x="385.8" y="350.5" font-size="7" fill="#d4d4d4" font-weight="bold">F</text>
<path d="M382 353.5H402" stroke="#d4d4d4" stroke-width="1"/>
<text x="395" y="352.5" font-size="6.5" fill="#d4d4d4" textLength="6" lengthAdjust="spacingAndGlyphs" font-weight="bold">300</text>
<path d="M269.5 379V447" stroke="#d4d4d4" stroke-width="1"/>
<path d="M278.5 379V447" stroke="#d4d4d4" stroke-width="1"/>
<path d="M513.5 379V447" stroke="#d4d4d4" stroke-width="1"/>
<path d="M522.5 379V447" stroke="#d4d4d4" stroke-width="1"/>
<path d="M269 379.5H307" stroke="#d4d4d4" stroke-width="1"/>
<path d="M463 379.5H523" stroke="#d4d4d4" stroke-width="1"/>
<path d="M269 446.5H307" stroke="#d4d4d4" stroke-width="1"/>
<path d="M463 446.5H523" stroke="#d4d4d4" stroke-width="1"/>
<path d="M278 382.5H307" stroke="#d4d4d4" stroke-width="1"/>
<path d="M463 382.5H514" stroke="#d4d4d4" stroke-width="1"/>
<path d="M278 385.5H307" stroke="#d4d4d4" stroke-width="1"/>
<path d="M463 385.5H514" stroke="#d4d4d4" stroke-width="1"/>
<path d="M278 441.5H307" stroke="#d4d4d4" stroke-width="1"/>
<path d="M463 441.5H514" stroke="#d4d4d4" stroke-width="1"/>
<path d="M278 444.5H307" stroke="#d4d4d4" stroke-width="1"/>
<path d="M463 444.5H514" stroke="#d4d4d4" stroke-width="1"/>
<circle cx="492" cy="410" r="4.5" fill="none" stroke="#d4d4d4" stroke-width="1" shape-rendering="auto"/>
<text x="490.2" y="412.5" font-size="7" fill="#d4d4d4" font-weight="bold">F</text>
<path d="M463 415.5H509" stroke="#d4d4d4" stroke-width="1"/>
<text x="501" y="414.5" font-size="6.5" fill="#d4d4d4" textLength="7" lengthAdjust="spacingAndGlyphs" font-weight="bold">300</text>
<text x="267" y="412.5" font-size="6.5" fill="#d4d4d4" text-anchor="middle" transform="rotate(-90 267 412.5)" textLength="9" lengthAdjust="spacingAndGlyphs" font-weight="bold">3000</text>
<text x="520" y="412.5" font-size="6.5" fill="#d4d4d4" text-anchor="middle" transform="rotate(-90 520 412.5)" textLength="9" lengthAdjust="spacingAndGlyphs" font-weight="bold">3000</text>
<text x="277" y="413.5" font-size="6.5" fill="#d4d4d4" text-anchor="middle" transform="rotate(-90 277 413.5)" textLength="23" lengthAdjust="spacingAndGlyphs" font-weight="bold">3000000</text>
<text x="277" y="375" font-size="6.5" fill="#d4d4d4" text-anchor="middle" transform="rotate(-90 277 375)" textLength="6" lengthAdjust="spacingAndGlyphs" font-weight="bold">300</text>
<text x="277" y="383.5" font-size="6.5" fill="#d4d4d4" text-anchor="middle" transform="rotate(-90 277 383.5)" textLength="6" lengthAdjust="spacingAndGlyphs" font-weight="bold">300</text>
<text x="277" y="443" font-size="6.5" fill="#d4d4d4" text-anchor="middle" transform="rotate(-90 277 443)" textLength="6" lengthAdjust="spacingAndGlyphs" font-weight="bold">300</text>
<text x="277" y="451" font-size="6.5" fill="#d4d4d4" text-anchor="middle" transform="rotate(-90 277 451)" textLength="7" lengthAdjust="spacingAndGlyphs" font-weight="bold">300</text>
<text x="512" y="413.5" font-size="6.5" fill="#d4d4d4" text-anchor="middle" transform="rotate(-90 512 413.5)" textLength="23" lengthAdjust="spacingAndGlyphs" font-weight="bold">3000000</text>
<text x="512" y="375" font-size="6.5" fill="#d4d4d4" text-anchor="middle" transform="rotate(-90 512 375)" textLength="6" lengthAdjust="spacingAndGlyphs" font-weight="bold">300</text>
<text x="512" y="383.5" font-size="6.5" fill="#d4d4d4" text-anchor="middle" transform="rotate(-90 512 383.5)" textLength="6" lengthAdjust="spacingAndGlyphs" font-weight="bold">300</text>
<text x="512" y="443" font-size="6.5" fill="#d4d4d4" text-anchor="middle" transform="rotate(-90 512 443)" textLength="6" lengthAdjust="spacingAndGlyphs" font-weight="bold">300</text>
<text x="512" y="451" font-size="6.5" fill="#d4d4d4" text-anchor="middle" transform="rotate(-90 512 451)" textLength="7" lengthAdjust="spacingAndGlyphs" font-weight="bold">300</text>
<text x="370" y="500.3" font-size="8" fill="#d4d4d4" textLength="41.5" lengthAdjust="spacingAndGlyphs" stroke="#d4d4d4" stroke-width="0.45">踏掛版断面図</text>
<text x="381.8" y="506.8" font-size="7" fill="#d4d4d4" textLength="17.7" lengthAdjust="spacingAndGlyphs" font-weight="bold">3 - 3</text>
<path d="M306 514.5H464" stroke="#d4d4d4" stroke-width="1"/>
<text x="381" y="513.5" font-size="6.5" fill="#d4d4d4" textLength="9" lengthAdjust="spacingAndGlyphs" font-weight="bold">3000</text>
<path d="M304 523.5H466" stroke="#d4d4d4" stroke-width="1"/>
<text x="299" y="522.5" font-size="6.5" fill="#d4d4d4" textLength="7" lengthAdjust="spacingAndGlyphs" font-weight="bold">300</text>
<text x="310" y="522.5" font-size="6.5" fill="#d4d4d4" textLength="7" lengthAdjust="spacingAndGlyphs" font-weight="bold">300</text>
<text x="451" y="522.5" font-size="6.5" fill="#d4d4d4" textLength="7" lengthAdjust="spacingAndGlyphs" font-weight="bold">300</text>
<text x="464" y="522.5" font-size="6.5" fill="#d4d4d4" textLength="7" lengthAdjust="spacingAndGlyphs" font-weight="bold">300</text>
<text x="374" y="522.5" font-size="6.5" fill="#d4d4d4" textLength="21.6" lengthAdjust="spacingAndGlyphs" font-weight="bold">30000000</text>
<path d="M306.5 514V602" stroke="#d4d4d4" stroke-width="1"/>
<path d="M463.5 514V602" stroke="#d4d4d4" stroke-width="1"/>
<path d="M309.5 523V553" stroke="#d4d4d4" stroke-width="1"/>
<path d="M318.5 523V553" stroke="#d4d4d4" stroke-width="1"/>
<path d="M452.5 523V553" stroke="#d4d4d4" stroke-width="1"/>
<path d="M461.5 523V553" stroke="#d4d4d4" stroke-width="1"/>
<path d="M309.5 560V592" stroke="#d4d4d4" stroke-width="1"/>
<path d="M312.5 560V592" stroke="#d4d4d4" stroke-width="1"/>
<path d="M458.5 560V592" stroke="#d4d4d4" stroke-width="1"/>
<path d="M461.5 560V592" stroke="#d4d4d4" stroke-width="1"/>
<path d="M279 552.5H514" stroke="#d4d4d4" stroke-width="1"/>
<path d="M279 560.5H514" stroke="#d4d4d4" stroke-width="1"/>
<path d="M279 554.5H306" stroke="#d4d4d4" stroke-width="1"/>
<path d="M279 558.5H306" stroke="#d4d4d4" stroke-width="1"/>
<path d="M465 554.5H506" stroke="#d4d4d4" stroke-width="1"/>
<path d="M465 558.5H506" stroke="#d4d4d4" stroke-width="1"/>
<path d="M269.5 552V561" stroke="#d4d4d4" stroke-width="1"/>
<path d="M269 552.5H280" stroke="#d4d4d4" stroke-width="1"/>
<path d="M269 560.5H280" stroke="#d4d4d4" stroke-width="1"/>
<path d="M512.5 552V561" stroke="#d4d4d4" stroke-width="1"/>
<rect x="308.5" y="554.5" width="154" height="4" fill="#280000" stroke="#c02020"/>
<path d="M318 556.5H463" stroke="#d8b0b0" stroke-width="1"/>
<path d="M318.5 554V559" stroke="#c02020" stroke-width="1"/>
<path d="M385.5 548V577" stroke="#d4d4d4" stroke-width="1"/>
<circle cx="391" cy="543.5" r="4.5" fill="none" stroke="#d4d4d4" stroke-width="1" shape-rendering="auto"/>
<text x="389.2" y="546.0" font-size="7" fill="#d4d4d4" font-weight="bold">F</text>
<path d="M385 548.5H405" stroke="#d4d4d4" stroke-width="1"/>
<text x="398" y="547.5" font-size="6.5" fill="#d4d4d4" textLength="6.6" lengthAdjust="spacingAndGlyphs" font-weight="bold">300</text>
<circle cx="391" cy="570" r="4.5" fill="none" stroke="#d4d4d4" stroke-width="1" shape-rendering="auto"/>
<text x="389.2" y="572.5" font-size="7" fill="#d4d4d4" font-weight="bold">F</text>
<path d="M385 576.5H405" stroke="#d4d4d4" stroke-width="1"/>
<text x="398" y="575.5" font-size="6.5" fill="#d4d4d4" textLength="6.6" lengthAdjust="spacingAndGlyphs" font-weight="bold">300</text>
<circle cx="486.4" cy="549.5" r="4.5" fill="none" stroke="#d4d4d4" stroke-width="1" shape-rendering="auto"/>
<text x="484.59999999999997" y="552.0" font-size="7" fill="#d4d4d4" font-weight="bold">F</text>
<text x="493" y="554.5" font-size="6.5" fill="#d4d4d4" textLength="6" lengthAdjust="spacingAndGlyphs" font-weight="bold">300</text>
<path d="M304 591.5H466" stroke="#d4d4d4" stroke-width="1"/>
<path d="M306 601.5H464" stroke="#d4d4d4" stroke-width="1"/>
<text x="299" y="590.5" font-size="6.5" fill="#d4d4d4" textLength="7" lengthAdjust="spacingAndGlyphs" font-weight="bold">300</text>
<text x="310" y="590.5" font-size="6.5" fill="#d4d4d4" textLength="7" lengthAdjust="spacingAndGlyphs" font-weight="bold">300</text>
<text x="451" y="590.5" font-size="6.5" fill="#d4d4d4" textLength="7" lengthAdjust="spacingAndGlyphs" font-weight="bold">300</text>
<text x="464" y="590.5" font-size="6.5" fill="#d4d4d4" textLength="7" lengthAdjust="spacingAndGlyphs" font-weight="bold">300</text>
<text x="374" y="590.5" font-size="6.5" fill="#d4d4d4" textLength="21.6" lengthAdjust="spacingAndGlyphs" font-weight="bold">30000000</text>
<text x="381" y="600" font-size="6.5" fill="#d4d4d4" textLength="9" lengthAdjust="spacingAndGlyphs" font-weight="bold">3000</text>
<text x="266" y="556" font-size="6.5" fill="#d4d4d4" text-anchor="middle" transform="rotate(-90 266 556)" textLength="7" lengthAdjust="spacingAndGlyphs" font-weight="bold">300</text>
<text x="277" y="545" font-size="6.5" fill="#d4d4d4" text-anchor="middle" transform="rotate(-90 277 545)" textLength="14" lengthAdjust="spacingAndGlyphs" font-weight="bold">300000</text>
<text x="277" y="568" font-size="6.5" fill="#d4d4d4" text-anchor="middle" transform="rotate(-90 277 568)" textLength="14" lengthAdjust="spacingAndGlyphs" font-weight="bold">300000</text>
<text x="502.5" y="547" font-size="6.5" fill="#d4d4d4" text-anchor="middle" transform="rotate(-90 502.5 547)" textLength="9" lengthAdjust="spacingAndGlyphs" font-weight="bold">3000</text>
<text x="502.5" y="566" font-size="6.5" fill="#d4d4d4" text-anchor="middle" transform="rotate(-90 502.5 566)" textLength="9" lengthAdjust="spacingAndGlyphs" font-weight="bold">3000</text>
<text x="515" y="556.5" font-size="6.5" fill="#d4d4d4" text-anchor="middle" transform="rotate(-90 515 556.5)" textLength="9" lengthAdjust="spacingAndGlyphs" font-weight="bold">3000</text>
<text x="545" y="147.5" font-size="7" fill="#d4d4d4" textLength="20" lengthAdjust="spacingAndGlyphs" font-weight="bold" stroke="#d4d4d4" stroke-width="0.45">鉄筋表</text>
<path d="M544 151.5H739" stroke="#d4d4d4" stroke-width="1"/>
<path d="M544 163.5H739" stroke="#d4d4d4" stroke-width="1"/>
<path d="M544 171.5H739" stroke="#d4d4d4" stroke-width="1"/>
<path d="M544 179.5H739" stroke="#d4d4d4" stroke-width="1"/>
<path d="M544 187.5H739" stroke="#d4d4d4" stroke-width="1"/>
<path d="M544 195.5H739" stroke="#d4d4d4" stroke-width="1"/>
<path d="M544 203.5H739" stroke="#d4d4d4" stroke-width="1"/>
<path d="M544 211.5H739" stroke="#d4d4d4" stroke-width="1"/>
<path d="M544 219.5H739" stroke="#d4d4d4" stroke-width="1"/>
<path d="M544 226.5H739" stroke="#d4d4d4" stroke-width="1"/>
<path d="M544 234.5H739" stroke="#d4d4d4" stroke-width="1"/>
<path d="M544 241.5H739" stroke="#d4d4d4" stroke-width="1"/>
<path d="M544.5 151V242" stroke="#d4d4d4" stroke-width="1"/>
<path d="M738.5 151V242" stroke="#d4d4d4" stroke-width="1"/>
<path d="M561.5 151V204" stroke="#d4d4d4" stroke-width="1"/>
<path d="M578.5 151V204" stroke="#d4d4d4" stroke-width="1"/>
<path d="M607.5 151V204" stroke="#d4d4d4" stroke-width="1"/>
<path d="M623.5 151V204" stroke="#d4d4d4" stroke-width="1"/>
<path d="M651.5 151V204" stroke="#d4d4d4" stroke-width="1"/>
<path d="M679.5 151V204" stroke="#d4d4d4" stroke-width="1"/>
<path d="M707.5 151V204" stroke="#d4d4d4" stroke-width="1"/>
<path d="M562.5 151V204" stroke="#d4d4d4" stroke-width="1"/>
<text x="548" y="158" font-size="8" fill="#d4d4d4" textLength="13" lengthAdjust="spacingAndGlyphs">× ×</text>
<text x="565" y="158" font-size="8" fill="#d4d4d4" textLength="7" lengthAdjust="spacingAndGlyphs">×</text>
<text x="584" y="158" font-size="8" fill="#d4d4d4" textLength="14" lengthAdjust="spacingAndGlyphs">× ×</text>
<text x="611" y="158" font-size="8" fill="#d4d4d4" textLength="10" lengthAdjust="spacingAndGlyphs">× ×</text>
<text x="626" y="158" font-size="8" fill="#d4d4d4" textLength="22" lengthAdjust="spacingAndGlyphs">×××××</text>
<text x="654" y="158" font-size="8" fill="#d4d4d4" textLength="24" lengthAdjust="spacingAndGlyphs">××××××</text>
<text x="683" y="158" font-size="8" fill="#d4d4d4" textLength="18" lengthAdjust="spacingAndGlyphs">× ×</text>
<text x="712" y="158" font-size="8" fill="#d4d4d4" textLength="19" lengthAdjust="spacingAndGlyphs">× ×</text>
<text x="585" y="162" font-size="5.5" fill="#d4d4d4" textLength="7" lengthAdjust="spacingAndGlyphs" font-weight="bold">3000</text>
<text x="627" y="162" font-size="5.5" fill="#d4d4d4" textLength="10" lengthAdjust="spacingAndGlyphs" font-weight="bold">3000</text>
<text x="654" y="162" font-size="5.5" fill="#d4d4d4" textLength="10" lengthAdjust="spacingAndGlyphs" font-weight="bold">3000</text>
<text x="683" y="162" font-size="5.5" fill="#d4d4d4" textLength="7" lengthAdjust="spacingAndGlyphs" font-weight="bold">3000</text>
<text x="548" y="168.5" font-size="6.5" fill="#d4d4d4" textLength="4" lengthAdjust="spacingAndGlyphs" font-weight="bold">3000</text>
<text x="566" y="168.5" font-size="6.5" fill="#d4d4d4" textLength="7" lengthAdjust="spacingAndGlyphs" font-weight="bold">3000</text>
<text x="593" y="168.5" font-size="6.5" fill="#d4d4d4" textLength="10" lengthAdjust="spacingAndGlyphs" font-weight="bold">3000</text>
<text x="614" y="168.5" font-size="6.5" fill="#d4d4d4" textLength="7" lengthAdjust="spacingAndGlyphs" font-weight="bold">3000</text>
<text x="635" y="168.5" font-size="6.5" fill="#d4d4d4" textLength="13" lengthAdjust="spacingAndGlyphs" font-weight="bold">3000</text>
<text x="663" y="168.5" font-size="6.5" fill="#d4d4d4" textLength="12" lengthAdjust="spacingAndGlyphs" font-weight="bold">3000</text>
<text x="695" y="168.5" font-size="6.5" fill="#d4d4d4" textLength="7" lengthAdjust="spacingAndGlyphs" font-weight="bold">3000</text>
<text x="548" y="176.5" font-size="6.5" fill="#d4d4d4" textLength="4" lengthAdjust="spacingAndGlyphs" font-weight="bold">3000</text>
<text x="566" y="176.5" font-size="6.5" fill="#d4d4d4" textLength="7" lengthAdjust="spacingAndGlyphs" font-weight="bold">3000</text>
<text x="593" y="176.5" font-size="6.5" fill="#d4d4d4" textLength="10" lengthAdjust="spacingAndGlyphs" font-weight="bold">3000</text>
<text x="614" y="176.5" font-size="6.5" fill="#d4d4d4" textLength="7" lengthAdjust="spacingAndGlyphs" font-weight="bold">3000</text>
<text x="635" y="176.5" font-size="6.5" fill="#d4d4d4" textLength="13" lengthAdjust="spacingAndGlyphs" font-weight="bold">3000</text>
<text x="663" y="176.5" font-size="6.5" fill="#d4d4d4" textLength="12" lengthAdjust="spacingAndGlyphs" font-weight="bold">3000</text>
<text x="695" y="176.5" font-size="6.5" fill="#d4d4d4" textLength="7" lengthAdjust="spacingAndGlyphs" font-weight="bold">3000</text>
<text x="548" y="184.5" font-size="6.5" fill="#d4d4d4" textLength="4" lengthAdjust="spacingAndGlyphs" font-weight="bold">3000</text>
<text x="566" y="184.5" font-size="6.5" fill="#d4d4d4" textLength="7" lengthAdjust="spacingAndGlyphs" font-weight="bold">3000</text>
<text x="593" y="184.5" font-size="6.5" fill="#d4d4d4" textLength="10" lengthAdjust="spacingAndGlyphs" font-weight="bold">3000</text>
<text x="614" y="184.5" font-size="6.5" fill="#d4d4d4" textLength="7" lengthAdjust="spacingAndGlyphs" font-weight="bold">3000</text>
<text x="635" y="184.5" font-size="6.5" fill="#d4d4d4" textLength="13" lengthAdjust="spacingAndGlyphs" font-weight="bold">3000</text>
<text x="663" y="184.5" font-size="6.5" fill="#d4d4d4" textLength="12" lengthAdjust="spacingAndGlyphs" font-weight="bold">3000</text>
<text x="695" y="184.5" font-size="6.5" fill="#d4d4d4" textLength="7" lengthAdjust="spacingAndGlyphs" font-weight="bold">3000</text>
<text x="548" y="192.5" font-size="6.5" fill="#d4d4d4" textLength="4" lengthAdjust="spacingAndGlyphs" font-weight="bold">3000</text>
<text x="566" y="192.5" font-size="6.5" fill="#d4d4d4" textLength="7" lengthAdjust="spacingAndGlyphs" font-weight="bold">3000</text>
<text x="593" y="192.5" font-size="6.5" fill="#d4d4d4" textLength="10" lengthAdjust="spacingAndGlyphs" font-weight="bold">3000</text>
<text x="614" y="192.5" font-size="6.5" fill="#d4d4d4" textLength="7" lengthAdjust="spacingAndGlyphs" font-weight="bold">3000</text>
<text x="635" y="192.5" font-size="6.5" fill="#d4d4d4" textLength="13" lengthAdjust="spacingAndGlyphs" font-weight="bold">3000</text>
<text x="663" y="192.5" font-size="6.5" fill="#d4d4d4" textLength="12" lengthAdjust="spacingAndGlyphs" font-weight="bold">3000</text>
<text x="695" y="192.5" font-size="6.5" fill="#d4d4d4" textLength="7" lengthAdjust="spacingAndGlyphs" font-weight="bold">3000</text>
<text x="548" y="200.5" font-size="6.5" fill="#d4d4d4" textLength="4" lengthAdjust="spacingAndGlyphs" font-weight="bold">3000</text>
<text x="566" y="200.5" font-size="6.5" fill="#d4d4d4" textLength="7" lengthAdjust="spacingAndGlyphs" font-weight="bold">3000</text>
<text x="593" y="200.5" font-size="6.5" fill="#d4d4d4" textLength="10" lengthAdjust="spacingAndGlyphs" font-weight="bold">3000</text>
<text x="614" y="200.5" font-size="6.5" fill="#d4d4d4" textLength="7" lengthAdjust="spacingAndGlyphs" font-weight="bold">3000</text>
<text x="635" y="200.5" font-size="6.5" fill="#d4d4d4" textLength="13" lengthAdjust="spacingAndGlyphs" font-weight="bold">3000</text>
<text x="663" y="200.5" font-size="6.5" fill="#d4d4d4" textLength="12" lengthAdjust="spacingAndGlyphs" font-weight="bold">3000</text>
<text x="695" y="200.5" font-size="6.5" fill="#d4d4d4" textLength="7" lengthAdjust="spacingAndGlyphs" font-weight="bold">3000</text>
<path d="M709.5 170V166.5H719.5V170" stroke="#d4d4d4" fill="none"/>
<path d="M709.5 174V177.5H719.5V174" stroke="#d4d4d4" fill="none"/>
<path d="M709.5 186V182.5H719.5V186" stroke="#d4d4d4" fill="none"/>
<path d="M709.5 190V193.5H719.5V190" stroke="#d4d4d4" fill="none"/>
<path d="M711.5 200V198.5H717.5V200" stroke="#d4d4d4" fill="none"/>
<text x="654" y="217" font-size="6.5" fill="#d4d4d4" textLength="7" lengthAdjust="spacingAndGlyphs" font-weight="bold">3000</text>
<text x="693" y="217" font-size="6.5" fill="#d4d4d4" textLength="12" lengthAdjust="spacingAndGlyphs" font-weight="bold">300 30</text>
<text x="654" y="233" font-size="6.5" fill="#d4d4d4" textLength="8" lengthAdjust="spacingAndGlyphs" font-weight="bold">×××</text>
<text x="693" y="233" font-size="6.5" fill="#d4d4d4" textLength="12" lengthAdjust="spacingAndGlyphs" font-weight="bold">300 30</text>
<text x="562.5" y="282" font-size="8" fill="#d4d4d4" textLength="21" lengthAdjust="spacingAndGlyphs" stroke="#d4d4d4" stroke-width="0.45">加工図</text>
<path d="M577 297.5H638" stroke="#c8202c" stroke-width="1"/>
<path d="M576.5 297V302" stroke="#d4d4d4" stroke-width="1"/>
<path d="M638.5 297V302" stroke="#d4d4d4" stroke-width="1"/>
<path d="M567 297.5H576" stroke="#d4d4d4" stroke-width="1"/>
<path d="M639 297.5H647" stroke="#d4d4d4" stroke-width="1"/>
<path d="M567 301.5H576" stroke="#d4d4d4" stroke-width="1"/>
<path d="M639 301.5H647" stroke="#d4d4d4" stroke-width="1"/>
<text x="562" y="302" font-size="6.5" fill="#d4d4d4" textLength="4" lengthAdjust="spacingAndGlyphs" font-weight="bold">30</text>
<text x="647" y="302" font-size="6.5" fill="#d4d4d4" textLength="4" lengthAdjust="spacingAndGlyphs" font-weight="bold">30</text>
<path d="M576 287.5H639" stroke="#d4d4d4" stroke-width="1"/>
<path d="M576.5 287V298" stroke="#d4d4d4" stroke-width="1"/>
<path d="M638.5 287V298" stroke="#d4d4d4" stroke-width="1"/>
<text x="604" y="286" font-size="6.5" fill="#d4d4d4" textLength="7" lengthAdjust="spacingAndGlyphs" font-weight="bold">3000</text>
<circle cx="592" cy="308.7" r="4.5" fill="none" stroke="#d4d4d4" stroke-width="1" shape-rendering="auto"/>
<text x="590.2" y="311.2" font-size="7" fill="#d4d4d4" font-weight="bold">F</text>
<text x="599" y="314" font-size="6.5" fill="#d4d4d4" textLength="22.7" lengthAdjust="spacingAndGlyphs" font-weight="bold">30000000</text>
<path d="M577 329.5H730" stroke="#c8202c" stroke-width="1"/>
<path d="M576.5 329V334" stroke="#d4d4d4" stroke-width="1"/>
<path d="M730.5 329V334" stroke="#d4d4d4" stroke-width="1"/>
<path d="M567 329.5H576" stroke="#d4d4d4" stroke-width="1"/>
<path d="M731 329.5H739" stroke="#d4d4d4" stroke-width="1"/>
<path d="M567 333.5H576" stroke="#d4d4d4" stroke-width="1"/>
<path d="M731 333.5H739" stroke="#d4d4d4" stroke-width="1"/>
<text x="562" y="334" font-size="6.5" fill="#d4d4d4" textLength="4" lengthAdjust="spacingAndGlyphs" font-weight="bold">30</text>
<text x="739" y="334" font-size="6.5" fill="#d4d4d4" textLength="4" lengthAdjust="spacingAndGlyphs" font-weight="bold">30</text>
<path d="M576 319.5H731" stroke="#d4d4d4" stroke-width="1"/>
<path d="M576.5 319V330" stroke="#d4d4d4" stroke-width="1"/>
<path d="M730.5 319V330" stroke="#d4d4d4" stroke-width="1"/>
<text x="649" y="318" font-size="6.5" fill="#d4d4d4" textLength="7" lengthAdjust="spacingAndGlyphs" font-weight="bold">3000</text>
<circle cx="637" cy="341.5" r="4.5" fill="none" stroke="#d4d4d4" stroke-width="1" shape-rendering="auto"/>
<text x="635.2" y="344.0" font-size="7" fill="#d4d4d4" font-weight="bold">F</text>
<text x="645" y="346" font-size="6.5" fill="#d4d4d4" textLength="21" lengthAdjust="spacingAndGlyphs" font-weight="bold">30000000</text>
<path d="M576.5 350V374" stroke="#d4d4d4" stroke-width="1"/>
<path d="M580.5 350V374" stroke="#d4d4d4" stroke-width="1"/>
<path d="M580.5 351.3A11 10.9 0 0 1 580.5 373" fill="none" stroke="#d4d4d4" shape-rendering="auto"/>
<path d="M565 362.5H576" stroke="#d4d4d4" stroke-width="1"/>
<path d="M565 364.5H576" stroke="#d4d4d4" stroke-width="1"/>
<circle cx="578" cy="363.3" r="1.6" fill="#c02020"/>
<text x="576" y="355" font-size="6.5" fill="#d4d4d4" textLength="5" lengthAdjust="spacingAndGlyphs" font-weight="bold">300</text>
<text x="576" y="376" font-size="6.5" fill="#d4d4d4" textLength="6" lengthAdjust="spacingAndGlyphs" font-weight="bold">300</text>
<text x="567" y="360" font-size="6.5" fill="#d4d4d4" textLength="7" lengthAdjust="spacingAndGlyphs" font-weight="bold">300</text>
<text x="562" y="366" font-size="6.5" fill="#d4d4d4" textLength="4" lengthAdjust="spacingAndGlyphs" font-weight="bold">30</text>
<text x="588" y="365" font-size="6.5" fill="#d4d4d4" textLength="3" lengthAdjust="spacingAndGlyphs" font-weight="bold">3</text>
<circle cx="557.4" cy="382.9" r="4.5" fill="none" stroke="#d4d4d4" stroke-width="1" shape-rendering="auto"/>
<text x="555.6" y="385.4" font-size="7" fill="#d4d4d4" font-weight="bold">F</text>
<text x="565" y="388.5" font-size="6.5" fill="#d4d4d4" textLength="20.6" lengthAdjust="spacingAndGlyphs" font-weight="bold">30000000</text>
<path d="M577 398.5H638" stroke="#c8202c" stroke-width="1"/>
<path d="M576.5 394V399" stroke="#d4d4d4" stroke-width="1"/>
<path d="M638.5 394V399" stroke="#d4d4d4" stroke-width="1"/>
<path d="M567 394.5H576" stroke="#d4d4d4" stroke-width="1"/>
<path d="M639 394.5H647" stroke="#d4d4d4" stroke-width="1"/>
<path d="M567 398.5H576" stroke="#d4d4d4" stroke-width="1"/>
<path d="M639 398.5H647" stroke="#d4d4d4" stroke-width="1"/>
<text x="562" y="399" font-size="6.5" fill="#d4d4d4" textLength="4" lengthAdjust="spacingAndGlyphs" font-weight="bold">30</text>
<text x="647" y="399" font-size="6.5" fill="#d4d4d4" textLength="4" lengthAdjust="spacingAndGlyphs" font-weight="bold">30</text>
<path d="M576 407.5H639" stroke="#d4d4d4" stroke-width="1"/>
<path d="M576.5 398V408" stroke="#d4d4d4" stroke-width="1"/>
<path d="M638.5 398V408" stroke="#d4d4d4" stroke-width="1"/>
<text x="604" y="405.5" font-size="6.5" fill="#d4d4d4" textLength="7" lengthAdjust="spacingAndGlyphs" font-weight="bold">3000</text>
<circle cx="592" cy="426.7" r="4.5" fill="none" stroke="#d4d4d4" stroke-width="1" shape-rendering="auto"/>
<text x="590.2" y="429.2" font-size="7" fill="#d4d4d4" font-weight="bold">F</text>
<text x="599" y="432" font-size="6.5" fill="#d4d4d4" textLength="22.7" lengthAdjust="spacingAndGlyphs" font-weight="bold">30000000</text>
<path d="M577 441.5H730" stroke="#c8202c" stroke-width="1"/>
<path d="M576.5 437V442" stroke="#d4d4d4" stroke-width="1"/>
<path d="M730.5 437V442" stroke="#d4d4d4" stroke-width="1"/>
<path d="M567 437.5H576" stroke="#d4d4d4" stroke-width="1"/>
<path d="M731 437.5H739" stroke="#d4d4d4" stroke-width="1"/>
<path d="M567 441.5H576" stroke="#d4d4d4" stroke-width="1"/>
<path d="M731 441.5H739" stroke="#d4d4d4" stroke-width="1"/>
<text x="562" y="442" font-size="6.5" fill="#d4d4d4" textLength="4" lengthAdjust="spacingAndGlyphs" font-weight="bold">30</text>
<text x="739" y="442" font-size="6.5" fill="#d4d4d4" textLength="4" lengthAdjust="spacingAndGlyphs" font-weight="bold">30</text>
<path d="M576 451.5H731" stroke="#d4d4d4" stroke-width="1"/>
<path d="M576.5 441V452" stroke="#d4d4d4" stroke-width="1"/>
<path d="M730.5 441V452" stroke="#d4d4d4" stroke-width="1"/>
<text x="649" y="449.5" font-size="6.5" fill="#d4d4d4" textLength="7" lengthAdjust="spacingAndGlyphs" font-weight="bold">3000</text>
<circle cx="637" cy="472.5" r="4.5" fill="none" stroke="#d4d4d4" stroke-width="1" shape-rendering="auto"/>
<text x="635.2" y="475.0" font-size="7" fill="#d4d4d4" font-weight="bold">F</text>
<text x="645" y="477" font-size="6.5" fill="#d4d4d4" textLength="21" lengthAdjust="spacingAndGlyphs" font-weight="bold">30000000</text>
<path d="M849 649.5H963" stroke="#d8d848" stroke-width="1"/>
<path d="M849 660.5H963" stroke="#d8d848" stroke-width="1"/>
<path d="M849 672.5H963" stroke="#d8d848" stroke-width="1"/>
<path d="M849 683.5H963" stroke="#d8d848" stroke-width="1"/>
<path d="M849 694.5H963" stroke="#d8d848" stroke-width="1"/>
<path d="M849 705.5H963" stroke="#d8d848" stroke-width="1"/>
<path d="M849 716.5H963" stroke="#d8d848" stroke-width="1"/>
<path d="M849.5 649V717" stroke="#d8d848" stroke-width="1"/>
<path d="M962.5 649V717" stroke="#d8d848" stroke-width="1"/>
<path d="M872.5 649V717" stroke="#d8d848" stroke-width="1"/>
<path d="M906.5 683V695" stroke="#d8d848" stroke-width="1"/>
<path d="M929.5 683V695" stroke="#d8d848" stroke-width="1"/>
<text x="852.5" y="658" font-size="7" fill="#d4d4d4" textLength="16" lengthAdjust="spacingAndGlyphs" font-weight="bold" stroke="#d4d4d4" stroke-width="0.45">工事名</text>
<text x="852.5" y="669.5" font-size="7" fill="#d4d4d4" textLength="16" lengthAdjust="spacingAndGlyphs" font-weight="bold" stroke="#d4d4d4" stroke-width="0.45">路線名</text>
<text x="852.5" y="681" font-size="7" fill="#d4d4d4" textLength="16" lengthAdjust="spacingAndGlyphs" font-weight="bold" stroke="#d4d4d4" stroke-width="0.45">年月日</text>
<text x="855.0" y="692" font-size="7" fill="#d4d4d4" textLength="11" lengthAdjust="spacingAndGlyphs" font-weight="bold" stroke="#d4d4d4" stroke-width="0.45">尺度</text>
<text x="852.5" y="703" font-size="7" fill="#d4d4d4" textLength="16" lengthAdjust="spacingAndGlyphs" font-weight="bold" stroke="#d4d4d4" stroke-width="0.45">会社名</text>
<text x="850.5" y="714" font-size="7" fill="#d4d4d4" textLength="20" lengthAdjust="spacingAndGlyphs" font-weight="bold" stroke="#d4d4d4" stroke-width="0.45">事務所名</text>
<text x="908" y="692" font-size="7" fill="#d4d4d4" textLength="20" lengthAdjust="spacingAndGlyphs" font-weight="bold" stroke="#d4d4d4" stroke-width="0.45">図面番号</text>
<text x="940" y="693" font-size="6.5" fill="#d4d4d4" textLength="10" lengthAdjust="spacingAndGlyphs" font-weight="bold">3000</text>

</g>
</svg>
</body></html>
